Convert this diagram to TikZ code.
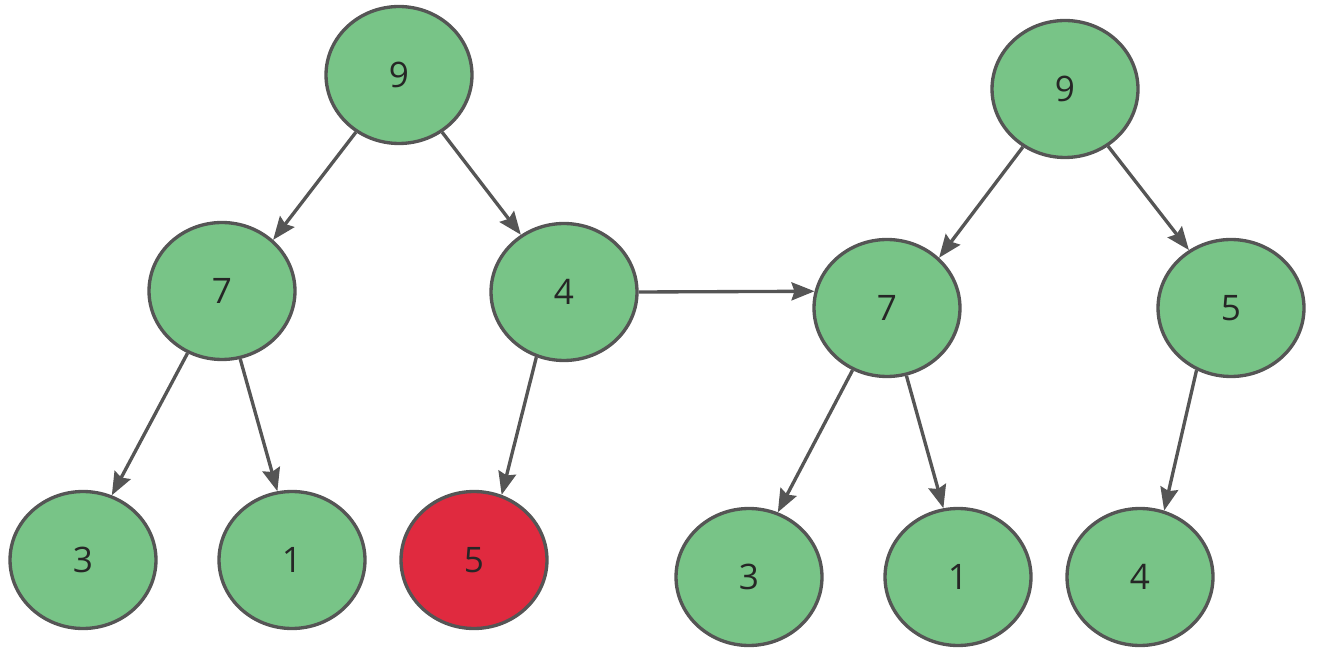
\documentclass[tikz,border=0pt]{standalone}
\usepackage{fontspec}
\setmainfont{Open Sans}
\usetikzlibrary{arrows.meta,shapes.geometric}
\definecolor{NodeGreen}{RGB}{120,196,135}
\definecolor{NodeRed}{RGB}{224,42,63}
\definecolor{EdgeGray}{RGB}{85,85,85}

\begin{document}
\begin{tikzpicture}[x=0.02cm, y=-0.02cm,
    heapnode/.style={ellipse, draw=EdgeGray, line width=1.9pt, fill=NodeGreen,
      minimum width=2.92cm, minimum height=2.74cm, inner sep=0pt,
      font=\fontsize{20}{24}\selectfont, text=black!85},
    heaparrow/.style={-{Stealth[length=4.6mm,width=3.6mm,inset=0.6mm]}, line width=1.9pt, draw=EdgeGray}]
        \useasboundingbox (0,0) rectangle (1318,651);
        % heap before sift-up
        \node[heapnode] (lnine) at (399,75) {9};
        \node[heapnode] (lseven) at (222,291) {7};
        \node[heapnode] (lfour) at (564,292) {4};
        \node[heapnode] (lthree) at (83,560) {3};
        \node[heapnode] (lone) at (292,560) {1};
        \node[heapnode, fill=NodeRed] (lfive) at (474,560) {5};
        % heap after sift-up
        \node[heapnode] (rnine) at (1065,89) {9};
        \node[heapnode] (rseven) at (887,308) {7};
        \node[heapnode] (rfive) at (1231,308) {5};
        \node[heapnode] (rthree) at (749,577) {3};
        \node[heapnode] (rone) at (958,577) {1};
        \node[heapnode] (rfour) at (1140,577) {4};
        % edges
        \draw[heaparrow] (lnine.-127) -- (lseven.45);
        \draw[heaparrow] (lnine.-53) -- (lfour.127);
        \draw[heaparrow] (lseven.-119) -- (lthree.66);
        \draw[heaparrow] (lseven.-75) -- (lone.102);
        \draw[heaparrow] (lfour.-113) -- (lfive.67);
        \draw[heaparrow] (lfour.east) -- (rseven.167);
        \draw[heaparrow] (rnine.-126) -- (rseven.44);
        \draw[heaparrow] (rnine.-53) -- (rfive.126);
        \draw[heaparrow] (rseven.-119) -- (rthree.66);
        \draw[heaparrow] (rseven.-74) -- (rone.102);
        \draw[heaparrow] (rfive.-119) -- (rfour.70);
\end{tikzpicture}
\end{document}
